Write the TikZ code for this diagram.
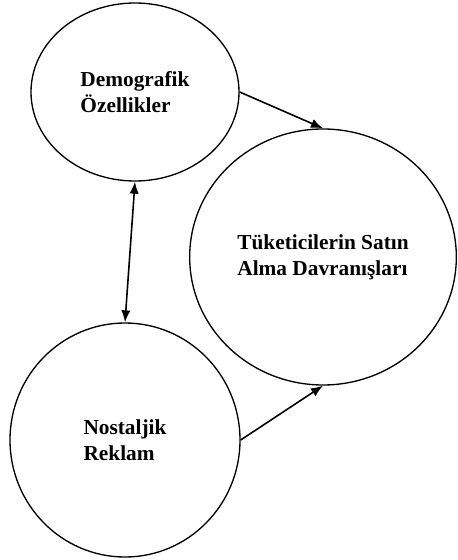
\documentclass[tikz,border=0pt]{standalone}
\usepackage{fontspec}
\setmainfont{Liberation Serif}
\usetikzlibrary{shapes.geometric,arrows.meta}
\tikzset{
  faktor/.style={draw, ellipse, line width=1pt, inner sep=0pt, align=left,
    font=\fontsize{16pt}{19.5pt}\selectfont\bfseries},
}
\begin{document}
\begin{tikzpicture}[x=0.75pt, y=-0.75pt, >={Latex[length=9pt,width=7pt]}]
\useasboundingbox (0,0) rectangle (457,560);
\node[faktor, minimum width=156pt, minimum height=133.5pt] (demo) at (135,92) {Demografik\\Özellikler};
\node[faktor, minimum width=200pt, minimum height=192pt] (tuketici) at (323,257) {Tüketicilerin Satın\\Alma Davranışları};
\node[faktor, minimum width=172.5pt, minimum height=175.5pt] (nostalji) at (125,440) {Nostaljik\\Reklam};
\draw[line width=1.2pt, ->] (demo.east)--(tuketici.north);
\draw[line width=1.2pt, <->] (demo.south)--(nostalji.north);
\draw[line width=1.2pt, ->] (nostalji.east)--(tuketici.south);
\end{tikzpicture}
\end{document}
